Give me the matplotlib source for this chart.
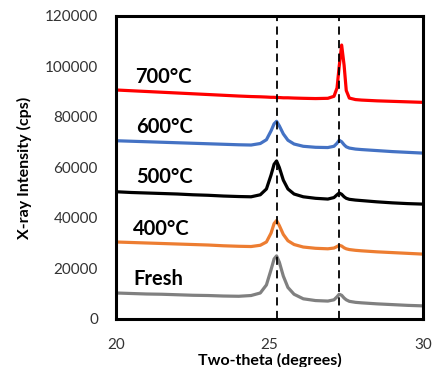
import matplotlib
matplotlib.use("Agg")
import matplotlib.pyplot as plt

plt.rcParams['font.family'] = ['Lato', 'DejaVu Sans']

# Two-theta grid (degrees)
two_theta = [20.0, 20.5, 21.0, 21.5, 22.0, 22.5, 23.0, 23.5, 24.0, 24.4, 24.7,
             24.9, 25.05, 25.15, 25.23, 25.32, 25.45, 25.6, 25.8, 26.1, 26.5,
             26.9, 27.1, 27.2, 27.27, 27.35, 27.43, 27.5, 27.6, 27.8, 28.0,
             28.5, 29.0, 29.5, 30.0]

# Intensities (cps), stacked patterns
fresh = [10300, 10100, 9900, 9800, 9600, 9400, 9300, 9100, 9000, 9300, 10300,
         13500, 19500, 23800, 25000, 22500, 17000, 12500, 9800, 8000, 7300,
         7100, 7600, 8800, 9800, 9400, 8300, 7600, 7000, 6600, 6400,
         6000, 5700, 5400, 5200]
t400 = [30500, 30300, 30100, 29900, 29700, 29500, 29300, 29000, 28800, 28700, 29200,
        30500, 34000, 37800, 39000, 37000, 33500, 31000, 29500, 28500, 28000,
        27800, 28100, 28700, 29200, 28900, 28200, 27800, 27500, 27200, 27000,
        26600, 26300, 26000, 25700]
t500 = [50400, 50100, 49900, 49700, 49500, 49200, 49000, 48700, 48500, 48400, 49200,
        51500, 57000, 61300, 62600, 60000, 55000, 51500, 49500, 48400, 47800,
        47500, 48100, 49200, 49900, 49400, 48400, 47800, 47400, 47100, 46900,
        46400, 46000, 45700, 45500]
t600 = [70600, 70400, 70200, 70000, 69800, 69600, 69400, 69200, 69000, 68900, 69500,
        71000, 74500, 77300, 78300, 76500, 73300, 70800, 69300, 68400, 68000,
        67900, 68400, 69600, 70800, 70200, 69000, 68200, 67700, 67300, 67100,
        66700, 66300, 66000, 65700]
t700 = [90700, 90400, 90100, 89800, 89500, 89200, 88900, 88600, 88300, 88100, 88000,
        87900, 87800, 87800, 87700, 87700, 87600, 87600, 87500, 87400, 87300,
        87400, 88200, 91500, 100000, 108500, 100500, 90500, 87500, 86900, 86700,
        86400, 86200, 86000, 85800]

series = [fresh, t400, t500, t600, t700]
names = ["Fresh", "400°C", "500°C", "600°C", "700°C"]
colors = ["#808080", "#ED7D31", "#000000", "#4472C4", "#FF0000"]
label_pos = [(20.55, 15800), (20.55, 35600), (20.65, 56200), (20.65, 76000), (20.62, 95800)]

# Reference peak positions
peak_lines = [25.23, 27.27]

fig = plt.figure(figsize=(4.35, 3.67), dpi=100)
ax = fig.add_axes([116 / 435, 1 - 319 / 367, 307 / 435, 303 / 367])

for y, c in zip(series, colors):
    ax.plot(two_theta, y, color=c, lw=2.3, solid_joinstyle='round', zorder=2)

for xp in peak_lines:
    ax.axvline(xp, color='black', lw=1.3, ls=(0, (4.5, 3)), zorder=3)

for (tx, ty), name in zip(label_pos, names):
    ax.text(tx, ty, name, fontsize=14.5, fontweight='bold', color='black',
            ha='left', va='center')

ax.set_xlim(20, 30)
ax.set_ylim(0, 120000)
ax.set_xticks([20, 25, 30])
ax.set_yticks(range(0, 120001, 20000))
ax.tick_params(axis='both', length=0, labelsize=11, colors='#333333')
ax.tick_params(axis='x', pad=14)
ax.tick_params(axis='y', pad=13)

for s in ax.spines.values():
    s.set_linewidth(2.2)
    s.set_color('black')

ax.set_xlabel("Two-theta (degrees)", fontsize=11.5, fontweight='bold')
ax.set_ylabel("X-ray Intensity (cps)", fontsize=11.5, fontweight='bold')
ax.xaxis.set_label_coords(0.5, -0.113)
ax.yaxis.set_label_coords(-0.275, 0.5)

fig.savefig("out.png", dpi=100)
